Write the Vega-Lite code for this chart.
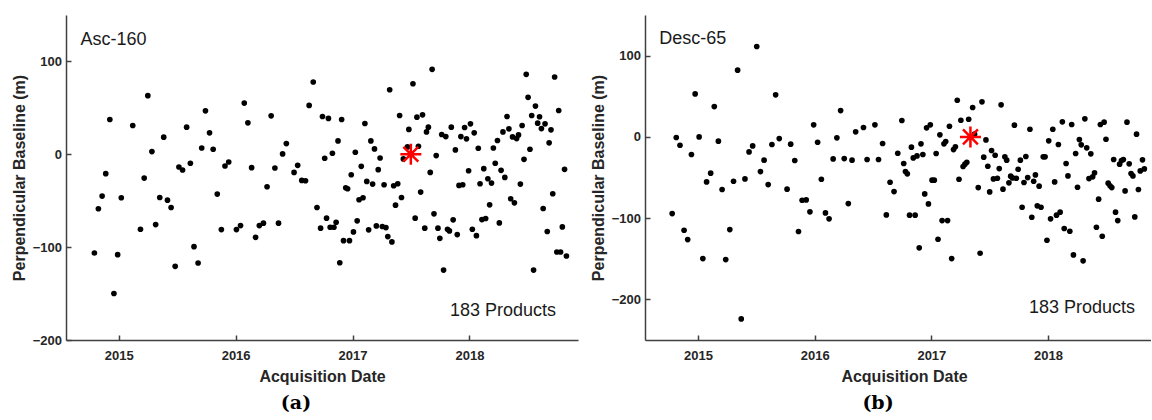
{
  "$schema": "https://vega.github.io/schema/vega-lite/v6.json",
  "background": "white",
  "padding": {"left": 11, "top": 15, "right": 0, "bottom": 0},
  "spacing": 12,
  "datasets": {
    "asc": [
      {"yr":2014.792,"bperp":-106.3},{"yr":2014.826,"bperp":-58.7},{"yr":2014.858,"bperp":-45.0},{"yr":2014.889,"bperp":-20.9},
      {"yr":2014.924,"bperp":37.5},{"yr":2014.959,"bperp":-149.9},{"yr":2014.991,"bperp":-108.1},{"yr":2015.022,"bperp":-46.8},
      {"yr":2015.120,"bperp":31.0},{"yr":2015.186,"bperp":-80.7},{"yr":2015.218,"bperp":-25.6},{"yr":2015.249,"bperp":63.1},
      {"yr":2015.284,"bperp":2.9},{"yr":2015.316,"bperp":-75.7},{"yr":2015.351,"bperp":-46.5},{"yr":2015.385,"bperp":18.4},
      {"yr":2015.417,"bperp":-49.4},{"yr":2015.448,"bperp":-57.3},{"yr":2015.483,"bperp":-120.7},{"yr":2015.515,"bperp":-13.7},
      {"yr":2015.546,"bperp":-16.9},{"yr":2015.581,"bperp":29.2},{"yr":2015.613,"bperp":-9.7},{"yr":2015.644,"bperp":-99.5},
      {"yr":2015.679,"bperp":-117.1},{"yr":2015.710,"bperp":6.8},{"yr":2015.742,"bperp":46.8},{"yr":2015.777,"bperp":23.1},
      {"yr":2015.808,"bperp":5.4},{"yr":2015.843,"bperp":-42.9},{"yr":2015.878,"bperp":-81.1},{"yr":2015.909,"bperp":-12.6},
      {"yr":2015.941,"bperp":-8.3},{"yr":2016.007,"bperp":-81.1},{"yr":2016.042,"bperp":-76.8},{"yr":2016.074,"bperp":55.1},
      {"yr":2016.105,"bperp":33.9},{"yr":2016.137,"bperp":-14.4},{"yr":2016.171,"bperp":-89.4},{"yr":2016.203,"bperp":-76.8},
      {"yr":2016.238,"bperp":-74.2},{"yr":2016.269,"bperp":-35.0},{"yr":2016.304,"bperp":41.4},{"yr":2016.336,"bperp":-14.8},
      {"yr":2016.367,"bperp":-74.2},{"yr":2016.402,"bperp":0.4},{"yr":2016.434,"bperp":11.5},{"yr":2016.500,"bperp":-19.5},
      {"yr":2016.531,"bperp":-11.9},{"yr":2016.566,"bperp":-28.1},{"yr":2016.598,"bperp":-28.5},{"yr":2016.629,"bperp":52.6},
      {"yr":2016.664,"bperp":77.8},{"yr":2016.696,"bperp":-57.3},{"yr":2016.727,"bperp":-79.6},{"yr":2016.743,"bperp":40.7},
      {"yr":2016.762,"bperp":-4.3},{"yr":2016.778,"bperp":-68.8},{"yr":2016.794,"bperp":38.6},{"yr":2016.809,"bperp":-78.6},
      {"yr":2016.828,"bperp":1.1},{"yr":2016.841,"bperp":-78.6},{"yr":2016.860,"bperp":-73.2},{"yr":2016.876,"bperp":14.4},
      {"yr":2016.891,"bperp":-116.8},{"yr":2016.907,"bperp":37.5},{"yr":2016.923,"bperp":-93.0},{"yr":2016.942,"bperp":-36.0},
      {"yr":2016.958,"bperp":-37.1},{"yr":2016.974,"bperp":-93.0},{"yr":2016.989,"bperp":-22.0},{"yr":2017.008,"bperp":-83.6},
      {"yr":2017.024,"bperp":2.2},{"yr":2017.040,"bperp":-71.7},{"yr":2017.056,"bperp":-49.0},{"yr":2017.075,"bperp":-13.0},
      {"yr":2017.090,"bperp":-46.8},{"yr":2017.106,"bperp":33.2},{"yr":2017.122,"bperp":-29.2},{"yr":2017.138,"bperp":-81.4},
      {"yr":2017.157,"bperp":14.4},{"yr":2017.172,"bperp":-32.1},{"yr":2017.188,"bperp":5.8},{"yr":2017.204,"bperp":-77.1},
      {"yr":2017.220,"bperp":-16.6},{"yr":2017.236,"bperp":-4.0},{"yr":2017.255,"bperp":-77.8},{"yr":2017.270,"bperp":-32.8},
      {"yr":2017.286,"bperp":-78.9},{"yr":2017.302,"bperp":-88.6},{"yr":2017.318,"bperp":69.5},{"yr":2017.337,"bperp":-94.4},
      {"yr":2017.352,"bperp":-33.9},{"yr":2017.368,"bperp":-54.8},{"yr":2017.387,"bperp":-31.7},{"yr":2017.403,"bperp":41.8},
      {"yr":2017.419,"bperp":-46.5},{"yr":2017.435,"bperp":-5.0},{"yr":2017.470,"bperp":7.9},{"yr":2017.482,"bperp":26.8},
      {"yr":2017.499,"bperp":0.0},{"yr":2017.517,"bperp":76.0},{"yr":2017.536,"bperp":-68.8},{"yr":2017.551,"bperp":40.0},
      {"yr":2017.564,"bperp":8.7},{"yr":2017.583,"bperp":-40.7},{"yr":2017.599,"bperp":42.5},{"yr":2017.618,"bperp":-79.6},
      {"yr":2017.633,"bperp":24.1},{"yr":2017.649,"bperp":29.2},{"yr":2017.665,"bperp":-19.5},{"yr":2017.681,"bperp":91.5},
      {"yr":2017.697,"bperp":-64.1},{"yr":2017.716,"bperp":-1.4},{"yr":2017.731,"bperp":-79.6},{"yr":2017.747,"bperp":-90.5},
      {"yr":2017.763,"bperp":21.3},{"yr":2017.779,"bperp":-124.7},{"yr":2017.798,"bperp":19.1},{"yr":2017.813,"bperp":-80.7},
      {"yr":2017.829,"bperp":-82.5},{"yr":2017.845,"bperp":29.2},{"yr":2017.861,"bperp":-70.6},{"yr":2017.880,"bperp":4.7},
      {"yr":2017.896,"bperp":-86.5},{"yr":2017.911,"bperp":-33.5},{"yr":2017.927,"bperp":19.1},{"yr":2017.943,"bperp":-32.8},
      {"yr":2017.959,"bperp":28.8},{"yr":2017.975,"bperp":16.6},{"yr":2017.993,"bperp":-17.7},{"yr":2018.009,"bperp":32.8},
      {"yr":2018.025,"bperp":-80.7},{"yr":2018.041,"bperp":23.1},{"yr":2018.060,"bperp":-87.6},{"yr":2018.076,"bperp":6.5},
      {"yr":2018.091,"bperp":-31.7},{"yr":2018.107,"bperp":-70.3},{"yr":2018.123,"bperp":-15.5},{"yr":2018.139,"bperp":-69.2},
      {"yr":2018.158,"bperp":-26.3},{"yr":2018.173,"bperp":-54.4},{"yr":2018.189,"bperp":-31.0},{"yr":2018.205,"bperp":6.8},
      {"yr":2018.221,"bperp":-9.7},{"yr":2018.240,"bperp":14.8},{"yr":2018.256,"bperp":-73.9},{"yr":2018.271,"bperp":-17.3},
      {"yr":2018.287,"bperp":24.1},{"yr":2018.303,"bperp":-24.9},{"yr":2018.322,"bperp":40.7},{"yr":2018.338,"bperp":27.4},
      {"yr":2018.353,"bperp":-47.9},{"yr":2018.369,"bperp":18.7},{"yr":2018.385,"bperp":-52.3},{"yr":2018.404,"bperp":16.9},
      {"yr":2018.420,"bperp":20.9},{"yr":2018.436,"bperp":-32.1},{"yr":2018.451,"bperp":31.0},{"yr":2018.467,"bperp":-5.4},
      {"yr":2018.486,"bperp":86.1},{"yr":2018.502,"bperp":61.3},{"yr":2018.518,"bperp":5.4},{"yr":2018.533,"bperp":41.8},
      {"yr":2018.549,"bperp":-124.7},{"yr":2018.565,"bperp":51.9},{"yr":2018.584,"bperp":33.5},{"yr":2018.600,"bperp":40.4},
      {"yr":2018.616,"bperp":27.7},{"yr":2018.631,"bperp":-58.4},{"yr":2018.647,"bperp":32.8},{"yr":2018.666,"bperp":-83.2},
      {"yr":2018.682,"bperp":12.3},{"yr":2018.698,"bperp":26.3},{"yr":2018.713,"bperp":-42.5},{"yr":2018.729,"bperp":83.2},
      {"yr":2018.748,"bperp":-105.2},{"yr":2018.764,"bperp":47.2},{"yr":2018.780,"bperp":-105.2},{"yr":2018.795,"bperp":-78.2},
      {"yr":2018.814,"bperp":-16.2},{"yr":2018.830,"bperp":-109.5}
    ],
    "desc": [
      {"yr":2014.778,"bperp":-94.4},{"yr":2014.813,"bperp":-0.8},{"yr":2014.845,"bperp":-10.3},{"yr":2014.880,"bperp":-114.9},
      {"yr":2014.911,"bperp":-126.4},{"yr":2014.943,"bperp":-21.7},{"yr":2014.975,"bperp":52.9},{"yr":2015.009,"bperp":0.0},
      {"yr":2015.041,"bperp":-149.8},{"yr":2015.073,"bperp":-55.4},{"yr":2015.108,"bperp":-44.7},{"yr":2015.139,"bperp":37.3},
      {"yr":2015.174,"bperp":-5.3},{"yr":2015.206,"bperp":-64.8},{"yr":2015.237,"bperp":-151.0},{"yr":2015.272,"bperp":-114.1},
      {"yr":2015.304,"bperp":-54.6},{"yr":2015.339,"bperp":82.1},{"yr":2015.370,"bperp":-224.0},{"yr":2015.402,"bperp":-51.7},
      {"yr":2015.437,"bperp":-18.5},{"yr":2015.468,"bperp":-11.1},{"yr":2015.503,"bperp":111.2},{"yr":2015.535,"bperp":-42.7},
      {"yr":2015.566,"bperp":-28.7},{"yr":2015.601,"bperp":-58.7},{"yr":2015.633,"bperp":-9.4},{"yr":2015.665,"bperp":51.7},
      {"yr":2015.696,"bperp":-2.1},{"yr":2015.763,"bperp":-64.4},{"yr":2015.794,"bperp":-9.0},{"yr":2015.829,"bperp":-29.1},
      {"yr":2015.861,"bperp":-116.5},{"yr":2015.892,"bperp":-78.0},{"yr":2015.927,"bperp":-77.6},{"yr":2015.959,"bperp":-92.3},
      {"yr":2015.991,"bperp":14.8},{"yr":2016.025,"bperp":-6.6},{"yr":2016.057,"bperp":-52.1},{"yr":2016.092,"bperp":-93.6},
      {"yr":2016.123,"bperp":-100.9},{"yr":2016.158,"bperp":-27.1},{"yr":2016.190,"bperp":-1.2},{"yr":2016.222,"bperp":32.4},
      {"yr":2016.253,"bperp":-26.7},{"yr":2016.288,"bperp":-82.1},{"yr":2016.320,"bperp":-28.7},{"yr":2016.351,"bperp":6.2},
      {"yr":2016.418,"bperp":11.5},{"yr":2016.449,"bperp":-27.9},{"yr":2016.516,"bperp":14.8},{"yr":2016.547,"bperp":-27.9},
      {"yr":2016.582,"bperp":-8.2},{"yr":2016.614,"bperp":-96.0},{"yr":2016.646,"bperp":-55.8},{"yr":2016.680,"bperp":-67.3},
      {"yr":2016.712,"bperp":-20.1},{"yr":2016.747,"bperp":20.1},{"yr":2016.763,"bperp":-32.8},{"yr":2016.778,"bperp":-42.7},
      {"yr":2016.794,"bperp":-45.5},{"yr":2016.813,"bperp":-96.4},{"yr":2016.829,"bperp":-12.7},{"yr":2016.845,"bperp":-25.9},
      {"yr":2016.861,"bperp":-96.4},{"yr":2016.877,"bperp":-23.4},{"yr":2016.896,"bperp":-136.6},{"yr":2016.911,"bperp":-8.6},
      {"yr":2016.927,"bperp":-21.7},{"yr":2016.943,"bperp":-70.2},{"yr":2016.959,"bperp":11.1},{"yr":2016.975,"bperp":-82.5},
      {"yr":2016.991,"bperp":14.8},{"yr":2017.006,"bperp":-53.3},{"yr":2017.025,"bperp":-53.3},{"yr":2017.041,"bperp":-20.5},
      {"yr":2017.057,"bperp":-126.0},{"yr":2017.073,"bperp":2.5},{"yr":2017.092,"bperp":-103.0},{"yr":2017.108,"bperp":-8.6},
      {"yr":2017.123,"bperp":-5.7},{"yr":2017.139,"bperp":-103.0},{"yr":2017.155,"bperp":13.1},{"yr":2017.174,"bperp":-149.8},
      {"yr":2017.190,"bperp":-15.6},{"yr":2017.206,"bperp":-12.3},{"yr":2017.222,"bperp":45.1},{"yr":2017.237,"bperp":-52.1},
      {"yr":2017.253,"bperp":20.5},{"yr":2017.272,"bperp":-36.5},{"yr":2017.288,"bperp":-33.6},{"yr":2017.304,"bperp":-31.2},
      {"yr":2017.320,"bperp":21.7},{"yr":2017.335,"bperp":0.0},{"yr":2017.354,"bperp":36.1},{"yr":2017.370,"bperp":3.3},
      {"yr":2017.402,"bperp":-62.4},{"yr":2017.418,"bperp":-143.2},{"yr":2017.434,"bperp":43.1},{"yr":2017.449,"bperp":-25.0},
      {"yr":2017.468,"bperp":-3.7},{"yr":2017.484,"bperp":-36.1},{"yr":2017.500,"bperp":-67.7},{"yr":2017.516,"bperp":-16.8},
      {"yr":2017.532,"bperp":-51.7},{"yr":2017.547,"bperp":-22.6},{"yr":2017.566,"bperp":-50.9},{"yr":2017.582,"bperp":-39.0},
      {"yr":2017.598,"bperp":39.4},{"yr":2017.614,"bperp":-64.4},{"yr":2017.630,"bperp":-24.6},{"yr":2017.646,"bperp":-28.7},
      {"yr":2017.665,"bperp":-56.6},{"yr":2017.680,"bperp":-48.4},{"yr":2017.696,"bperp":-50.5},{"yr":2017.712,"bperp":14.4},
      {"yr":2017.728,"bperp":-50.9},{"yr":2017.744,"bperp":-39.8},{"yr":2017.763,"bperp":-28.7},{"yr":2017.778,"bperp":-86.6},
      {"yr":2017.794,"bperp":-56.2},{"yr":2017.810,"bperp":-24.2},{"yr":2017.826,"bperp":-50.1},{"yr":2017.845,"bperp":9.4},
      {"yr":2017.861,"bperp":-98.9},{"yr":2017.877,"bperp":-54.6},{"yr":2017.892,"bperp":-46.8},{"yr":2017.908,"bperp":-84.9},
      {"yr":2017.924,"bperp":-60.7},{"yr":2017.940,"bperp":-86.6},{"yr":2017.959,"bperp":-24.6},{"yr":2017.975,"bperp":-24.6},
      {"yr":2017.991,"bperp":-127.2},{"yr":2018.006,"bperp":-4.9},{"yr":2018.022,"bperp":-100.9},{"yr":2018.041,"bperp":9.4},
      {"yr":2018.057,"bperp":-55.4},{"yr":2018.073,"bperp":-96.4},{"yr":2018.089,"bperp":-9.4},{"yr":2018.104,"bperp":-92.7},
      {"yr":2018.123,"bperp":18.5},{"yr":2018.139,"bperp":-112.8},{"yr":2018.155,"bperp":-32.8},{"yr":2018.171,"bperp":-48.0},
      {"yr":2018.187,"bperp":-116.1},{"yr":2018.203,"bperp":15.2},{"yr":2018.218,"bperp":-145.3},{"yr":2018.237,"bperp":-20.5},
      {"yr":2018.253,"bperp":-62.0},{"yr":2018.269,"bperp":-3.3},{"yr":2018.285,"bperp":-9.8},{"yr":2018.301,"bperp":-152.6},
      {"yr":2018.316,"bperp":22.2},{"yr":2018.332,"bperp":-13.5},{"yr":2018.351,"bperp":-51.3},{"yr":2018.367,"bperp":-20.9},
      {"yr":2018.383,"bperp":-49.2},{"yr":2018.399,"bperp":-44.3},{"yr":2018.415,"bperp":-111.2},{"yr":2018.434,"bperp":-76.7},
      {"yr":2018.449,"bperp":15.2},{"yr":2018.465,"bperp":-122.3},{"yr":2018.481,"bperp":18.1},{"yr":2018.497,"bperp":-2.9},
      {"yr":2018.516,"bperp":-57.0},{"yr":2018.532,"bperp":-60.3},{"yr":2018.547,"bperp":-62.4},{"yr":2018.563,"bperp":-27.9},
      {"yr":2018.579,"bperp":-92.7},{"yr":2018.598,"bperp":-103.0},{"yr":2018.614,"bperp":-33.6},{"yr":2018.630,"bperp":-29.1},
      {"yr":2018.646,"bperp":-27.9},{"yr":2018.661,"bperp":-66.5},{"yr":2018.677,"bperp":18.1},{"yr":2018.696,"bperp":-33.2},
      {"yr":2018.712,"bperp":-45.1},{"yr":2018.728,"bperp":-48.0},{"yr":2018.744,"bperp":-98.5},{"yr":2018.759,"bperp":3.3},
      {"yr":2018.775,"bperp":-64.8},{"yr":2018.791,"bperp":-41.9},{"yr":2018.810,"bperp":-28.3},{"yr":2018.826,"bperp":-39.4}
    ]
  },
  "hconcat": [
    {
      "width": 512,
      "height": 325,
      "title": {"text": "(a)", "orient": "bottom", "anchor": "middle", "frame": "group", "dx": -26, "offset": 10,
                "font": "DejaVu Serif", "fontWeight": "bold", "fontSize": 19, "color": "#000000"},
      "encoding": {
        "x": {"field": "yr", "type": "quantitative",
              "scale": {"domain": [2014.549, 2018.929], "nice": false, "zero": false},
              "axis": {"values": [2015, 2016, 2017, 2018], "format": "d", "title": "Acquisition Date"}},
        "y": {"field": "bperp", "type": "quantitative",
              "scale": {"domain": [-200, 150], "nice": false, "zero": false},
              "axis": {"values": [-200, -100, 0, 100], "title": "Perpendicular Baseline (m)"}}
      },
      "layer": [
        {"data": {"name": "asc"},
         "mark": {"type": "point", "shape": "circle", "filled": true, "size": 32, "color": "#000000", "opacity": 1}},
        {"data": {"values": [{"yr": 2017.499, "bperp": 0}]},
         "mark": {"type": "point", "shape": "M-1,0L1,0M0,-1L0,1M-0.71,-0.71L0.71,0.71M-0.71,0.71L0.71,-0.71",
                  "filled": false, "stroke": "#ff0000", "strokeWidth": 2.5, "size": 441, "opacity": 1}},
        {"data": {"values": [{"yr": 2014.673, "bperp": 118.1, "label": "Asc-160"}]},
         "mark": {"type": "text", "align": "left", "baseline": "alphabetic", "fontSize": 18, "color": "#1a1a1a"},
         "encoding": {"text": {"field": "label"}}},
        {"data": {"values": [{"yr": 2018.741, "bperp": -174.4, "label": "183 Products"}]},
         "mark": {"type": "text", "align": "right", "baseline": "alphabetic", "fontSize": 18, "color": "#1a1a1a"},
         "encoding": {"text": {"field": "label"}}}
      ]
    },
    {
      "width": 506,
      "height": 325,
      "title": {"text": "(b)", "orient": "bottom", "anchor": "middle", "frame": "group", "dx": -20, "offset": 10,
                "font": "DejaVu Serif", "fontWeight": "bold", "fontSize": 19, "color": "#000000"},
      "encoding": {
        "x": {"field": "yr", "type": "quantitative",
              "scale": {"domain": [2014.545, 2018.883], "nice": false, "zero": false},
              "axis": {"values": [2015, 2016, 2017, 2018], "format": "d", "title": "Acquisition Date", "titleX": 259}},
        "y": {"field": "bperp", "type": "quantitative",
              "scale": {"domain": [-250, 150], "nice": false, "zero": false},
              "axis": {"values": [-200, -100, 0, 100], "title": "Perpendicular Baseline (m)"}}
      },
      "layer": [
        {"data": {"name": "desc"},
         "mark": {"type": "point", "shape": "circle", "filled": true, "size": 32, "color": "#000000", "opacity": 1}},
        {"data": {"values": [{"yr": 2017.335, "bperp": 0}]},
         "mark": {"type": "point", "shape": "M-1,0L1,0M0,-1L0,1M-0.71,-0.71L0.71,0.71M-0.71,0.71L0.71,-0.71",
                  "filled": false, "stroke": "#ff0000", "strokeWidth": 2.5, "size": 441, "opacity": 1}},
        {"data": {"values": [{"yr": 2014.668, "bperp": 113.7, "label": "Desc-65"}]},
         "mark": {"type": "text", "align": "left", "baseline": "alphabetic", "fontSize": 18, "color": "#1a1a1a"},
         "encoding": {"text": {"field": "label"}}},
        {"data": {"values": [{"yr": 2018.746, "bperp": -216.8, "label": "183 Products"}]},
         "mark": {"type": "text", "align": "right", "baseline": "alphabetic", "fontSize": 18, "color": "#1a1a1a"},
         "encoding": {"text": {"field": "label"}}}
      ]
    }
  ],
  "config": {
    "font": "Liberation Sans",
    "view": {"stroke": null},
    "text": {"font": "Liberation Sans"},
    "axis": {
      "grid": false,
      "domainColor": "#404040", "domainWidth": 1.5,
      "tickColor": "#404040", "tickWidth": 1.5, "tickSize": -5,
      "labelFont": "Liberation Sans", "labelFontWeight": "bold", "labelFontSize": 13, "labelColor": "#262626",
      "titleFont": "Liberation Sans", "titleFontWeight": "bold", "titleFontSize": 16, "titleColor": "#262626"
    },
    "axisX": {"labelPadding": 14, "titlePadding": 6},
    "axisY": {"labelPadding": 9.5, "minExtent": 30, "maxExtent": 30, "titlePadding": 8.5}
  }
}
